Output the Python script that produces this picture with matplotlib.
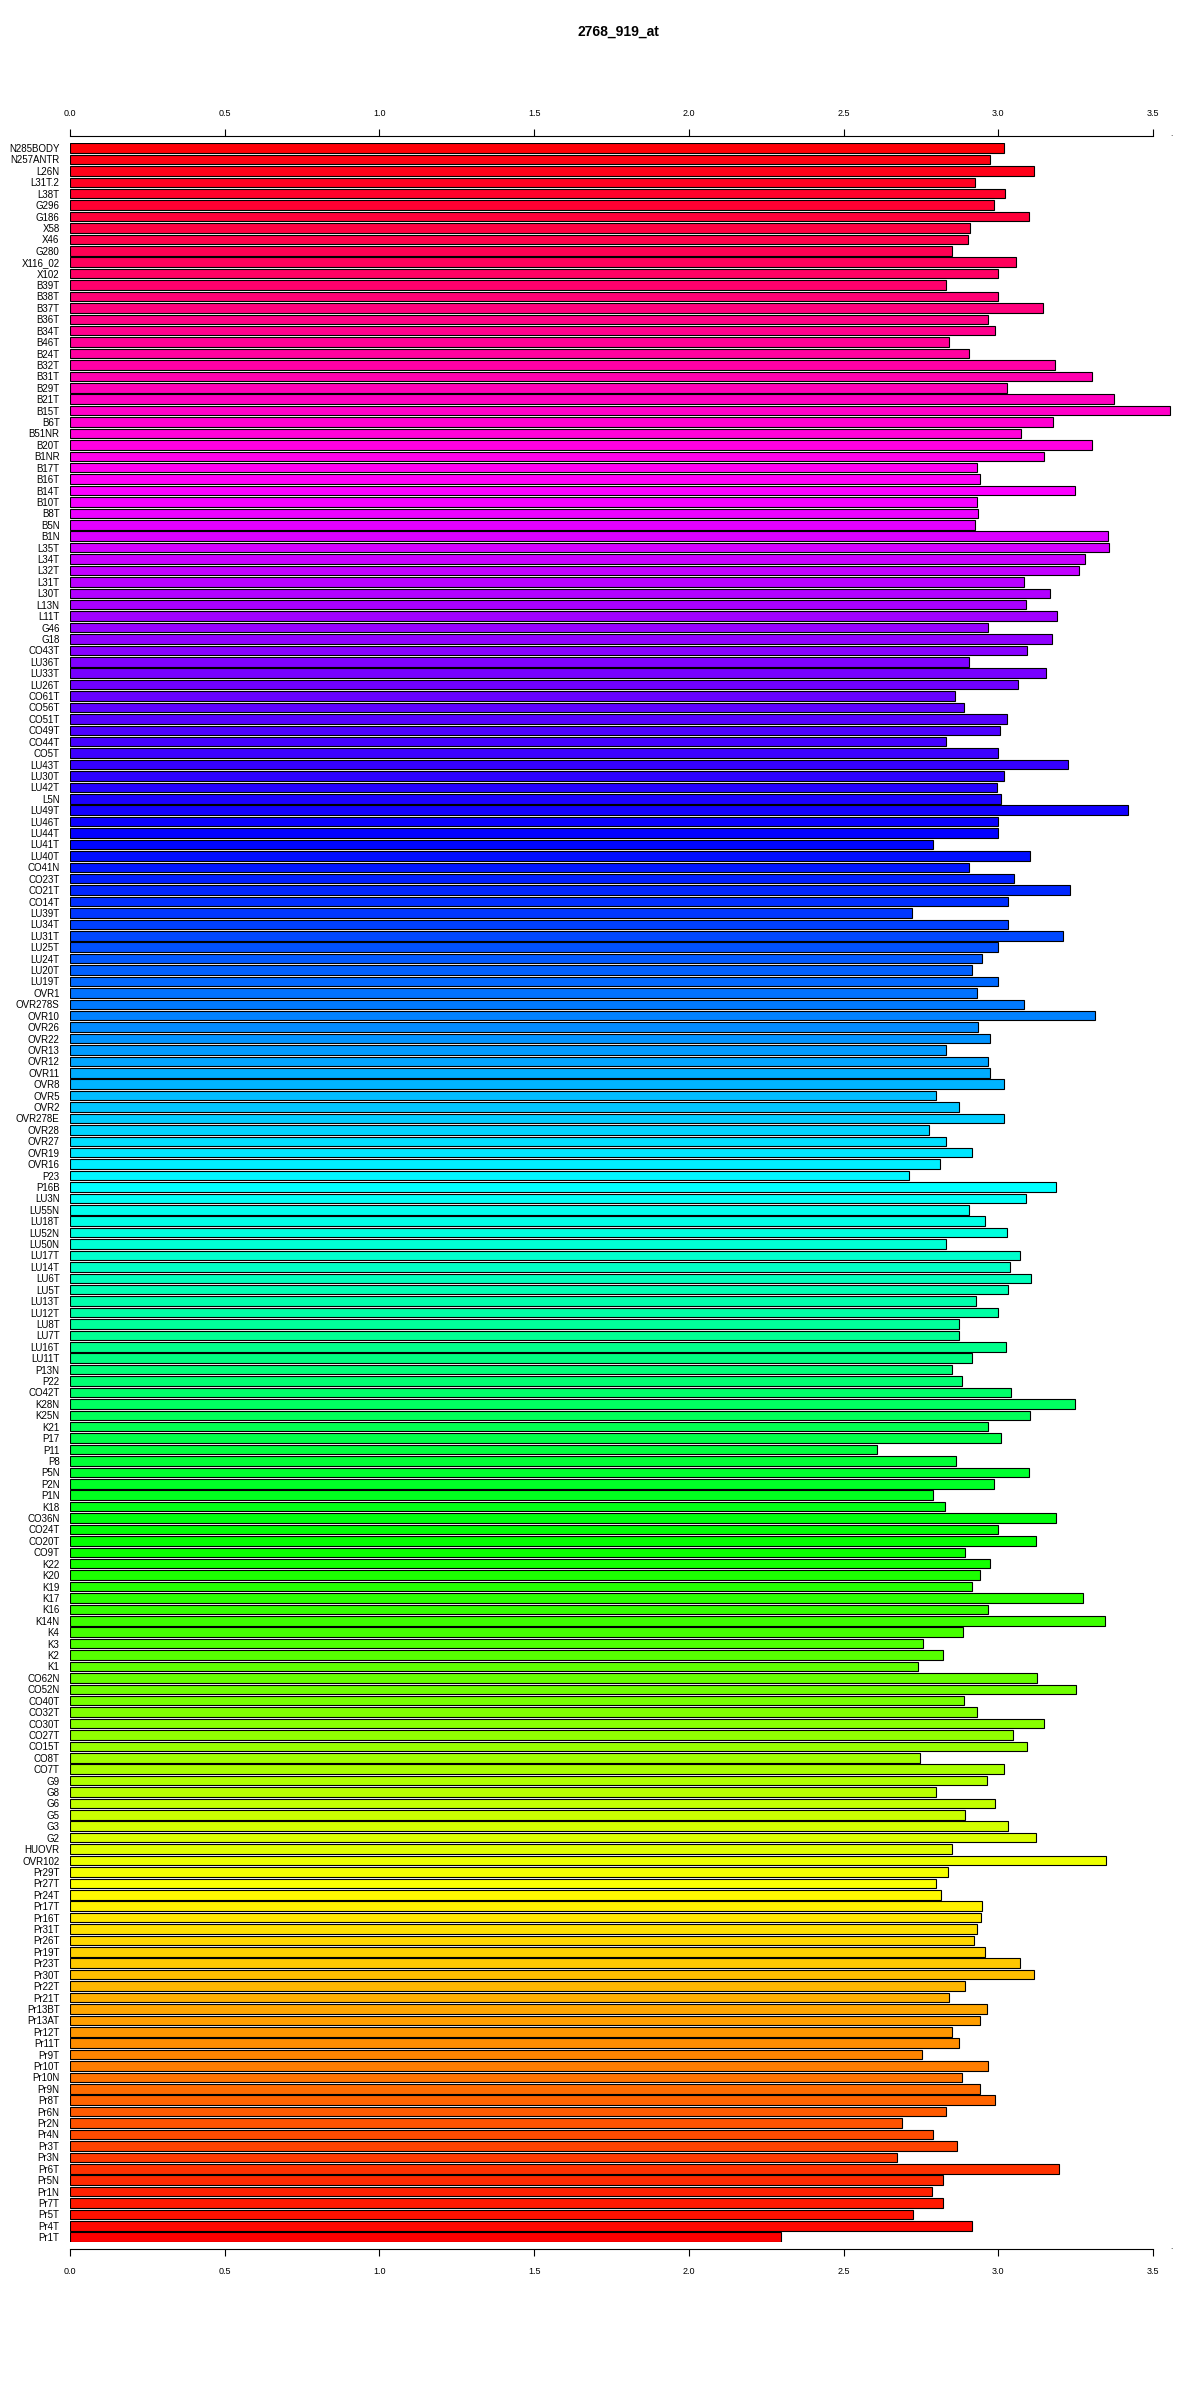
import numpy as np
import matplotlib
matplotlib.use("Agg")
import matplotlib.pyplot as plt
from matplotlib.colors import hsv_to_rgb

plt.rcParams["font.family"] = ["Liberation Sans", "DejaVu Sans"]

title = "2768_919_at"

# samples, listed top to bottom as in the chart
samples = [
    "N285BODY", "N257ANTR", "L26N", "L31T.2", "L38T", "G296", "G186", "X58", "X46", "G280",
    "X116_02", "X102", "B39T", "B38T", "B37T", "B36T", "B34T", "B46T", "B24T", "B32T",
    "B31T", "B29T", "B21T", "B15T", "B6T", "B51NR", "B20T", "B1NR", "B17T", "B16T",
    "B14T", "B10T", "B8T", "B5N", "B1N", "L35T", "L34T", "L32T", "L31T", "L30T",
    "L13N", "L11T", "G46", "G18", "CO43T", "LU36T", "LU33T", "LU26T", "CO61T", "CO56T",
    "CO51T", "CO49T", "CO44T", "CO5T", "LU43T", "LU30T", "LU42T", "L5N", "LU49T", "LU46T",
    "LU44T", "LU41T", "LU40T", "CO41N", "CO23T", "CO21T", "CO14T", "LU39T", "LU34T", "LU31T",
    "LU25T", "LU24T", "LU20T", "LU19T", "OVR1", "OVR278S", "OVR10", "OVR26", "OVR22", "OVR13",
    "OVR12", "OVR11", "OVR8", "OVR5", "OVR2", "OVR278E", "OVR28", "OVR27", "OVR19", "OVR16",
    "P23", "P16B", "LU3N", "LU55N", "LU18T", "LU52N", "LU50N", "LU17T", "LU14T", "LU6T",
    "LU5T", "LU13T", "LU12T", "LU8T", "LU7T", "LU16T", "LU11T", "P13N", "P22", "CO42T",
    "K28N", "K25N", "K21", "P17", "P11", "P8", "P5N", "P2N", "P1N", "K18",
    "CO36N", "CO24T", "CO20T", "CO9T", "K22", "K20", "K19", "K17", "K16", "K14N",
    "K4", "K3", "K2", "K1", "CO62N", "CO52N", "CO40T", "CO32T", "CO30T", "CO27T",
    "CO15T", "CO8T", "CO7T", "G9", "G8", "G6", "G5", "G3", "G2", "HUOVR",
    "OVR102", "Pr29T", "Pr27T", "Pr24T", "Pr17T", "Pr16T", "Pr31T", "Pr26T", "Pr19T", "Pr23T",
    "Pr30T", "Pr22T", "Pr21T", "Pr13BT", "Pr13AT", "Pr12T", "Pr11T", "Pr9T", "Pr10T", "Pr10N",
    "Pr9N", "Pr8T", "Pr6N", "Pr2N", "Pr4N", "Pr3T", "Pr3N", "Pr6T", "Pr5N", "Pr1N",
    "Pr7T", "Pr5T", "Pr4T", "Pr1T",
]

expression = [
    3.020, 2.973, 3.117, 2.926, 3.022, 2.985, 3.099, 2.909, 2.901, 2.849,
    3.057, 2.998, 2.832, 2.998, 3.144, 2.966, 2.990, 2.842, 2.906, 3.183,
    3.304, 3.027, 3.374, 3.554, 3.176, 3.072, 3.304, 3.149, 2.933, 2.941,
    3.248, 2.931, 2.936, 2.924, 3.354, 3.359, 3.282, 3.262, 3.084, 3.168,
    3.089, 3.191, 2.966, 3.173, 3.094, 2.904, 3.154, 3.065, 2.859, 2.889,
    3.027, 3.005, 2.830, 3.000, 3.225, 3.018, 2.995, 3.010, 3.421, 2.998,
    3.000, 2.788, 3.102, 2.904, 3.050, 3.233, 3.032, 2.721, 3.030, 3.210,
    2.998, 2.946, 2.916, 3.000, 2.931, 3.082, 3.314, 2.936, 2.973, 2.832,
    2.968, 2.973, 3.018, 2.800, 2.874, 3.020, 2.775, 2.830, 2.916, 2.812,
    2.713, 3.188, 3.089, 2.906, 2.958, 3.027, 2.832, 3.070, 3.037, 3.107,
    3.032, 2.928, 3.000, 2.874, 2.872, 3.025, 2.916, 2.849, 2.884, 3.040,
    3.248, 3.102, 2.968, 3.008, 2.609, 2.864, 3.099, 2.985, 2.790, 2.827,
    3.186, 3.000, 3.121, 2.891, 2.975, 2.941, 2.916, 3.275, 2.966, 3.344,
    2.886, 2.758, 2.820, 2.741, 3.126, 3.250, 2.889, 2.933, 3.149, 3.047,
    3.092, 2.748, 3.020, 2.963, 2.800, 2.988, 2.891, 3.030, 3.121, 2.852,
    3.347, 2.837, 2.800, 2.815, 2.948, 2.943, 2.931, 2.921, 2.956, 3.070,
    3.114, 2.891, 2.842, 2.963, 2.941, 2.849, 2.874, 2.755, 2.966, 2.884,
    2.941, 2.990, 2.832, 2.689, 2.790, 2.867, 2.674, 3.196, 2.822, 2.785,
    2.822, 2.726, 2.916, 2.298,
]

x_ticks = [0.0, 0.5, 1.0, 1.5, 2.0, 2.5, 3.0, 3.5]

n = len(samples)
# position 0 is the bottom bar, like R's barplot(horiz=TRUE)
ypos = np.arange(n)[::-1]
# rainbow(n): hue runs from 0 at the bottom bar upward
colors = [hsv_to_rgb((k / n, 1.0, 1.0)) for k in ypos]

fig = plt.figure(figsize=(12, 24), dpi=100)
ax = fig.add_axes([70 / 1200, (2400 - 2242) / 2400, (1171.5 - 70) / 1200, (2242 - 143.3) / 2400])

ax.barh(ypos, expression, height=1 / 1.2, color=colors, edgecolor="black", linewidth=0.8)

ax.set_xlim(0, 3.56)
ax.set_ylim(-0.5 / 1.2, n - 1 + 0.5 / 1.2)

ax.set_yticks(ypos)
ax.set_yticklabels(samples, fontsize=7)
ax.tick_params(axis="y", length=0, pad=7.5)

ax.set_xticks(x_ticks)
ax.set_xticklabels([f"{t:.1f}" for t in x_ticks])
ax.tick_params(axis="x", which="both", top=True, labeltop=True, bottom=True, labelbottom=True,
               direction="out", length=4.8, width=0.8, labelsize=6.5)
ax.xaxis.set_tick_params(which="major", pad=8)

for side in ["left", "right"]:
    ax.spines[side].set_visible(False)
for side in ["top", "bottom"]:
    ax.spines[side].set_position(("outward", 5.3))
    ax.spines[side].set_bounds(0, 3.5)
    ax.spines[side].set_linewidth(0.8)

# little dot R leaves at the far end of each axis
ax.annotate(".", xy=(3.56, 1), xycoords=("data", "axes fraction"), xytext=(0, 5.3),
            textcoords="offset points", ha="center", va="baseline", fontsize=6, annotation_clip=False)
ax.annotate(".", xy=(3.56, 0), xycoords=("data", "axes fraction"), xytext=(0, -5.3),
            textcoords="offset points", ha="center", va="baseline", fontsize=6, annotation_clip=False)

fig.text(618 / 1200, 1 - 31.7 / 2400, title, ha="center", va="center", fontsize=10, fontweight="bold")

fig.savefig("out.png", dpi=100)
